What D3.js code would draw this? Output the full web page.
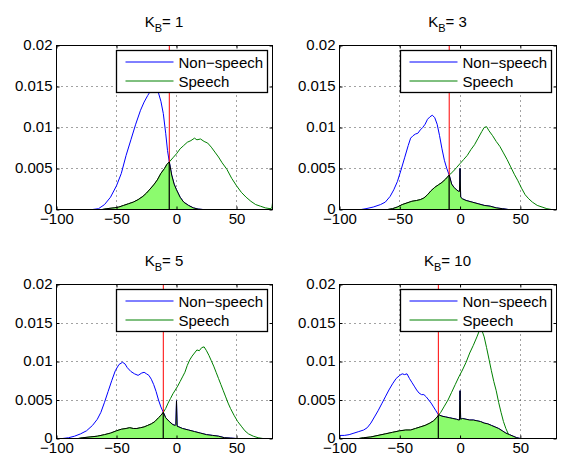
<!DOCTYPE html>
<html>
<head>
<meta charset="utf-8">
<script src="https://cdn.jsdelivr.net/npm/d3@7"></script>
<style>
  body { margin: 0; background: #fff; }
  svg { display: block; font-family: "Liberation Sans", Arial, Helvetica, sans-serif; }
</style>
</head>
<body>
<svg width="568" height="460"></svg>
<script>
// values, [x, density]
const kbValues = [1, 3, 5, 10]
const thresholds = [-6, -9, -11, -18]
const seriesNames = ["Non\u2212speech", "Speech"]
const xTickValues = [-100, -50, 0, 50]
const xTickLabels = ["\u2212100", "\u221250", "0", "50"]
const yTickValues = [0, 0.005, 0.01, 0.015, 0.02]
const yTickLabels = ["0", "0.005", "0.01", "0.015", "0.02"]

const nonSpeech1 = [[-100,0],[-70,0],[-65,0.0001],[-60,0.0006],[-55,0.0015],[-50,0.0029],[-46,0.0044],[-42,0.0066],[-38,0.0085],[-34,0.0104],[-30,0.0121],[-27,0.0131],[-24,0.0139],[-21,0.0146],[-19,0.0148],[-17,0.0147],[-15,0.0142],[-13,0.0132],[-11,0.0117],[-9,0.0093],[-7.5,0.0072],[-6,0.0058],[-4,0.0042],[-2,0.0031],[0,0.0024],[3,0.0015],[6,0.0009],[10,0.0005],[14,0.0002],[18,0.00005],[22,0],[80,0]]
const speech1 = [[-100,0],[-62,0],[-58,0.0001],[-52,0.0002],[-48,0.0003],[-44,0.0005],[-40,0.0007],[-36,0.0009],[-32,0.0012],[-28,0.0016],[-25,0.0020],[-22,0.0025],[-19,0.0030],[-16,0.0036],[-13,0.0044],[-10,0.0050],[-8,0.0055],[-6,0.0058],[-3,0.0063],[0,0.0068],[3,0.0074],[6,0.0078],[9,0.0082],[12,0.0084],[15,0.0087],[17,0.0085],[20,0.0086],[23,0.0083],[26,0.0081],[29,0.0076],[32,0.0070],[35,0.0064],[38,0.0057],[42,0.0049],[46,0.0038],[50,0.0029],[54,0.0021],[58,0.0015],[62,0.0010],[66,0.0006],[70,0.0004],[74,0.0002],[78,0.0001],[79.5,0.0002],[80,0.0008]]

const nonSpeech2 = [[-100,0],[-82,0],[-78,0.0001],[-72,0.0003],[-66,0.0006],[-62,0.0009],[-58,0.0016],[-55,0.0024],[-52,0.0034],[-49,0.0048],[-46,0.0063],[-43,0.0078],[-41,0.0087],[-39,0.0090],[-37,0.0092],[-35,0.0093],[-33,0.0097],[-31,0.0100],[-29,0.0104],[-27,0.0110],[-25,0.0113],[-23,0.0115],[-21,0.0112],[-19,0.0104],[-17,0.0090],[-15,0.0074],[-13,0.0060],[-11,0.0050],[-9,0.0042],[-7,0.0031],[-5,0.0027],[-3,0.0024],[-1,0.0022],[-0.5,0.0022],[0,0.0050],[0.5,0.0015],[2,0.0013],[5,0.0011],[10,0.0009],[15,0.0007],[20,0.0005],[25,0.0004],[30,0.0002],[35,0.0001],[40,0],[80,0]]
const speech2 = [[-100,0],[-60,0],[-56,0.0001],[-52,0.0003],[-48,0.0006],[-44,0.0008],[-40,0.0010],[-36,0.0011],[-33,0.0012],[-30,0.0014],[-27,0.0018],[-24,0.0023],[-21,0.0027],[-18,0.0030],[-15,0.0033],[-12,0.0037],[-9,0.0042],[-6,0.0046],[-3,0.0051],[0,0.0056],[3,0.0061],[6,0.0066],[9,0.0073],[12,0.0079],[15,0.0087],[18,0.0095],[20,0.0100],[22,0.0101],[24,0.0096],[27,0.0090],[30,0.0083],[33,0.0077],[36,0.0069],[39,0.0061],[42,0.0052],[45,0.0043],[48,0.0035],[51,0.0026],[54,0.0018],[57,0.0013],[60,0.0009],[64,0.0005],[68,0.0003],[72,0.0001],[76,0],[80,0]]

const nonSpeech3 = [[-100,0],[-95,0],[-90,0.0001],[-85,0.0003],[-80,0.0006],[-75,0.0010],[-70,0.0017],[-66,0.0025],[-63,0.0034],[-60,0.0047],[-57,0.0061],[-54,0.0075],[-51,0.0088],[-48,0.0096],[-45,0.0099],[-43,0.0097],[-41,0.0092],[-38,0.0087],[-35,0.0084],[-32,0.0082],[-29,0.0085],[-27,0.0086],[-25,0.0084],[-23,0.0082],[-21,0.0077],[-19,0.0070],[-17,0.0061],[-15,0.0050],[-13,0.0041],[-11,0.0034],[-9,0.0027],[-6,0.0022],[-3,0.0018],[-1,0.0017],[-0.5,0.0018],[0,0.0049],[0.5,0.0016],[2,0.0015],[5,0.0013],[10,0.0011],[15,0.0009],[20,0.0007],[25,0.0005],[30,0.0004],[35,0.0003],[40,0.0001],[45,0.00005],[50,0],[80,0]]
const speech3 = [[-100,0],[-82,0],[-78,0.0001],[-72,0.0002],[-66,0.0003],[-60,0.0005],[-55,0.0007],[-50,0.0010],[-46,0.0012],[-42,0.0013],[-39,0.0014],[-36,0.0013],[-33,0.0013],[-30,0.0014],[-27,0.0015],[-24,0.0017],[-21,0.0019],[-18,0.0022],[-15,0.0027],[-13,0.0030],[-11,0.0034],[-9,0.0039],[-7,0.0046],[-5,0.0052],[-3,0.0058],[-1,0.0063],[1,0.0068],[3,0.0074],[5,0.0080],[7,0.0086],[9,0.0095],[11,0.0102],[13,0.0107],[15,0.0111],[17,0.0115],[19,0.0114],[21,0.0118],[23,0.0119],[25,0.0114],[27,0.0108],[29,0.0101],[31,0.0094],[33,0.0086],[35,0.0078],[37,0.0070],[39,0.0062],[41,0.0054],[43,0.0046],[45,0.0039],[48,0.0030],[51,0.0022],[54,0.0016],[57,0.0010],[60,0.0006],[64,0.0003],[68,0.0001],[72,0],[80,0]]

const nonSpeech4 = [[-100,0.0004],[-96,0.0004],[-92,0.0005],[-88,0.0007],[-84,0.0009],[-80,0.0011],[-77,0.0014],[-74,0.0020],[-71,0.0028],[-68,0.0036],[-65,0.0045],[-62,0.0054],[-59,0.0063],[-56,0.0071],[-53,0.0078],[-50,0.0082],[-48,0.0084],[-46,0.0083],[-44,0.0084],[-42,0.0078],[-40,0.0073],[-38,0.0068],[-36,0.0063],[-34,0.0059],[-32,0.0057],[-30,0.0057],[-28,0.0054],[-26,0.0050],[-24,0.0046],[-22,0.0041],[-20,0.0036],[-18,0.0031],[-15,0.0029],[-12,0.0028],[-9,0.0027],[-6,0.0026],[-3,0.0025],[-1,0.0024],[-0.5,0.0024],[0,0.0062],[0.5,0.0025],[2,0.0026],[5,0.0025],[8,0.0024],[11,0.0024],[14,0.0023],[17,0.0022],[20,0.0020],[23,0.0019],[26,0.0017],[29,0.0015],[32,0.0013],[35,0.0010],[38,0.0007],[41,0.0005],[44,0.0003],[47,0.0001],[50,0],[80,0]]
const speech4 = [[-100,0],[-84,0],[-80,0.0001],[-74,0.0002],[-68,0.0004],[-62,0.0006],[-56,0.0008],[-50,0.0010],[-45,0.0011],[-41,0.0011],[-37,0.0013],[-33,0.0015],[-29,0.0017],[-25,0.0020],[-22,0.0023],[-20,0.0026],[-18,0.0030],[-16,0.0034],[-13,0.0042],[-10,0.0050],[-7,0.0060],[-4,0.0070],[-1,0.0080],[2,0.0089],[5,0.0099],[8,0.0111],[11,0.0121],[14,0.0132],[16,0.0140],[18,0.0141],[20,0.0132],[22,0.0118],[24,0.0103],[26,0.0088],[28,0.0074],[30,0.0062],[32,0.0047],[34,0.0034],[36,0.0022],[38,0.0013],[40,0.0006],[42,0.0002],[45,0],[80,0]]

const nonSpeechSeries = [nonSpeech1, nonSpeech2, nonSpeech3, nonSpeech4]
const speechSeries = [speech1, speech2, speech3, speech4]

// subplot boxes (left, top, width, height)
const boxes = [
  [56, 45, 216, 164],
  [339, 45, 217, 164],
  [56, 284, 216, 154],
  [339, 284, 217, 154]
]

const svg = d3.select("svg")
const fontSize = 15

function valueAt(series, x) {
  const i = d3.bisector(d => d[0]).left(series, x)
  if (i <= 0) return series[0][1]
  if (i >= series.length) return series[series.length - 1][1]
  const a = series[i - 1], b = series[i]
  return a[1] + (x - a[0]) / (b[0] - a[0]) * (b[1] - a[1])
}

kbValues.forEach((kb, k) => {
  const [left, top, w, h] = boxes[k]
  const t = thresholds[k]
  const nonSpeech = nonSpeechSeries[k]
  const speech = speechSeries[k]

  const x = d3.scaleLinear().domain([-100, 80]).range([0, w])
  const y = d3.scaleLinear().domain([0, 0.02]).range([h, 0])

  const g = svg.append("g").attr("transform", `translate(${left + 0.5},${top + 0.5})`)

  // dotted grid
  g.append("g").selectAll("line")
    .data(xTickValues.slice(1))
    .join("line")
      .attr("x1", d => Math.round(x(d))).attr("x2", d => Math.round(x(d)))
      .attr("y1", 0).attr("y2", h)
  g.append("g").selectAll("line")
    .data(yTickValues.slice(1, -1))
    .join("line")
      .attr("x1", 0).attr("x2", w)
      .attr("y1", d => Math.round(y(d))).attr("y2", d => Math.round(y(d)))
  g.selectAll("g line")
    .attr("stroke", "#444")
    .attr("stroke-width", 1)
    .attr("stroke-dasharray", "1,4")

  const line = d3.line().x(d => x(d[0])).y(d => y(d[1]))

  g.append("path").datum(nonSpeech)
    .attr("d", line).attr("fill", "none").attr("stroke", "#0000ff").attr("stroke-width", 1)
  g.append("path").datum(speech)
    .attr("d", line).attr("fill", "none").attr("stroke", "#008000").attr("stroke-width", 1)

  // threshold
  g.append("line")
    .attr("x1", x(t)).attr("x2", x(t))
    .attr("y1", y(0.02)).attr("y2", y(0))
    .attr("stroke", "#ff0000").attr("stroke-width", 1)

  // error areas: speech below threshold, non-speech above it
  const leftPart = speech.filter(d => d[0] < t).concat([[t, valueAt(speech, t)]])
  const rightPart = [[t, valueAt(nonSpeech, t)]].concat(nonSpeech.filter(d => d[0] > t))
  const area = d3.area().x(d => x(d[0])).y0(y(0)).y1(d => y(d[1]))
  ;[leftPart, rightPart].forEach(part => {
    g.append("path").datum(part)
      .attr("d", area)
      .attr("fill", "#8cfb6e")
      .attr("stroke", "#000")
      .attr("stroke-width", 1)
      .attr("stroke-linejoin", "round")
  })

  // axes, MATLAB style ticks pointing in
  const styleAxis = sel => {
    sel.select(".domain").remove()
    sel.selectAll("line").attr("stroke", "#000")
    sel.selectAll("text")
      .attr("font-family", "\"Liberation Sans\", Arial, Helvetica, sans-serif")
      .attr("font-size", fontSize)
      .attr("fill", "#000")
  }
  g.append("g").attr("transform", `translate(0,${h})`)
    .call(d3.axisBottom(x).tickValues(xTickValues).tickFormat((d, i) => xTickLabels[i]).tickSize(-3).tickPadding(4))
    .call(styleAxis)
  g.append("g")
    .call(d3.axisTop(x).tickValues(xTickValues).tickFormat("").tickSize(-3))
    .call(styleAxis)
  g.append("g")
    .call(d3.axisLeft(y).tickValues(yTickValues).tickFormat((d, i) => yTickLabels[i]).tickSize(-3).tickPadding(4))
    .call(styleAxis)
    .selectAll("text").attr("dy", "0.28em")
  g.append("g").attr("transform", `translate(${w},0)`)
    .call(d3.axisRight(y).tickValues(yTickValues).tickFormat("").tickSize(-3))
    .call(styleAxis)

  g.append("rect")
    .attr("width", w).attr("height", h)
    .attr("fill", "none").attr("stroke", "#000").attr("stroke-width", 1)

  // title
  const title = svg.append("text")
    .attr("x", left + w / 2).attr("y", top - 18)
    .attr("text-anchor", "middle")
    .attr("font-size", fontSize)
  title.append("tspan").text("K")
  title.append("tspan").attr("dy", 5).attr("font-size", 11).text("B")
  title.append("tspan").attr("dy", -5).text("= " + kb)

  // legend
  const lw = 151, lh = 42
  const lg = g.append("g").attr("transform", `translate(${w - 5 - lw},5)`)
  lg.append("rect")
    .attr("width", lw).attr("height", lh)
    .attr("fill", "#fff").attr("stroke", "#000").attr("stroke-width", 1.3)
  const legendColors = ["#0000ff", "#008000"]
  seriesNames.forEach((name, i) => {
    const ry = 11.5 + i * 19
    lg.append("line")
      .attr("x1", 9).attr("x2", 57).attr("y1", ry).attr("y2", ry)
      .attr("stroke", legendColors[i]).attr("stroke-width", 1)
    lg.append("text")
      .attr("x", 62).attr("y", ry + 5.5)
      .attr("font-size", fontSize)
      .text(name)
  })
})
</script>
</body>
</html>
